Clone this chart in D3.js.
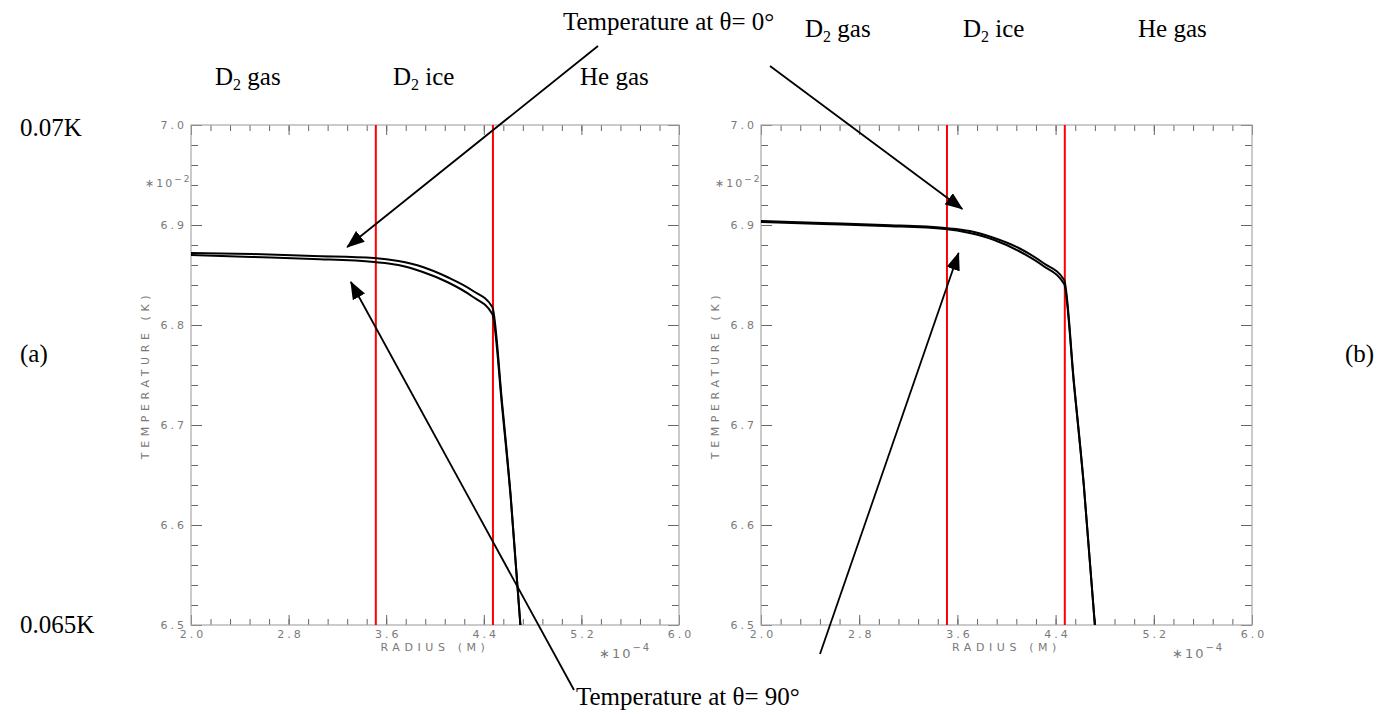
<!DOCTYPE html>
<html>
<head>
<meta charset="utf-8">
<script src="https://cdn.jsdelivr.net/npm/d3@7"></script>
<style>
  body { margin: 0; background: #fff; }
  text.serif { font-family: "Liberation Serif", "Times New Roman", serif; fill: #000; }
  text.idl { font-family: "DejaVu Sans", sans-serif; fill: #7a7a7a; }
</style>
</head>
<body>
<svg id="chart" width="1383" height="715"></svg>
<script>
// radius in units of 1e-4 m, temperature in units of 1e-2 K
const radiusA = [2.0, 2.5, 3.0, 3.5, 3.7, 3.9, 4.1, 4.3, 4.47, 4.55, 4.62, 4.70];
const tempA0  = [6.872, 6.871, 6.869, 6.867, 6.864, 6.858, 6.848, 6.835, 6.818, 6.722, 6.630, 6.5];
const tempA90 = [6.870, 6.868, 6.866, 6.863, 6.860, 6.853, 6.843, 6.829, 6.811, 6.718, 6.628, 6.5];

const radiusB = [2.0, 2.5, 3.0, 3.5, 3.7, 3.9, 4.1, 4.3, 4.47, 4.55, 4.63, 4.72];
const tempB0  = [6.904, 6.902, 6.900, 6.897, 6.894, 6.887, 6.877, 6.862, 6.845, 6.742, 6.640, 6.5];
const tempB90 = [6.903, 6.901, 6.899, 6.896, 6.892, 6.885, 6.874, 6.859, 6.841, 6.740, 6.639, 6.5];

// D2 gas | D2 ice | He gas interfaces
const boundaries = [3.515, 4.475];

const xMajor = [2.0, 2.8, 3.6, 4.4, 5.2, 6.0];
const xMinor = d3.range(0, 26).map(i => 2 + i * 0.16);
const yMajor = [6.5, 6.6, 6.7, 6.8, 6.9, 7.0];
const yMinor = d3.range(0, 26).map(i => 6.5 + i * 0.02);

const svg = d3.select('#chart');

// arrow head marker
svg.append('defs').append('marker')
  .attr('id', 'head')
  .attr('viewBox', '0 0 18 14')
  .attr('refX', 17).attr('refY', 7)
  .attr('markerWidth', 18).attr('markerHeight', 14)
  .attr('markerUnits', 'userSpaceOnUse')
  .attr('orient', 'auto')
  .append('path')
  .attr('d', 'M0,0L18,7L0,14Z')
  .attr('fill', '#000');

const panels = [
  { left: 191, right: 679, top: 125, bottom: 625, r: radiusA, t0: tempA0, t90: tempA90,
    labels: [215, 393, 580], labelY: 85 },
  { left: 761, right: 1252, top: 125, bottom: 625, r: radiusB, t0: tempB0, t90: tempB90,
    labels: [805, 963, 1138], labelY: 37 }
];

function drawPanel(p) {
  const x = d3.scaleLinear().domain([2, 6]).range([p.left, p.right]);
  const y = d3.scaleLinear().domain([6.5, 7.0]).range([p.bottom, p.top]);
  const g = svg.append('g');
  const w = p.right - p.left, h = p.bottom - p.top;

  // ticks on all four sides, pointing inwards
  const axes = [
    [d3.axisBottom(x), `translate(0,${p.bottom})`, xMajor, xMinor, -10, -6],
    [d3.axisTop(x), `translate(0,${p.top})`, xMajor, xMinor, -10, -6],
    [d3.axisLeft(y), `translate(${p.left},0)`, yMajor, yMinor, -11, -7],
    [d3.axisRight(y), `translate(${p.right},0)`, yMajor, yMinor, -11, -7]
  ];
  axes.forEach(([ax, tr, major, minor, lenMaj, lenMin]) => {
    [[minor, lenMin], [major, lenMaj]].forEach(([vals, len]) => {
      const a = g.append('g').attr('transform', tr)
        .call(ax.tickValues(vals).tickSize(len).tickSizeOuter(0).tickFormat(''));
      a.select('.domain').remove();
      a.selectAll('line').attr('stroke', '#666').attr('stroke-width', 1);
    });
  });

  g.append('rect')
    .attr('x', p.left).attr('y', p.top)
    .attr('width', w).attr('height', h)
    .attr('fill', 'none').attr('stroke', '#a8a8a8').attr('stroke-width', 1.2);

  // tick labels
  g.selectAll('.xl').data(xMajor).join('text')
    .attr('class', 'idl')
    .attr('x', d => x(d) + 2).attr('y', p.bottom + 13)
    .attr('text-anchor', 'middle')
    .style('font-size', '11px').style('letter-spacing', '3px')
    .text(d => d.toFixed(1));
  g.selectAll('.yl').data(yMajor).join('text')
    .attr('class', 'idl')
    .attr('x', p.left - 4).attr('y', d => y(d) + 4)
    .attr('text-anchor', 'end')
    .style('font-size', '11px').style('letter-spacing', '3px')
    .text(d => d.toFixed(1));

  // axis titles
  g.append('text').attr('class', 'idl')
    .attr('transform', `translate(${p.left - 42},${(p.top + p.bottom) / 2}) rotate(-90)`)
    .attr('text-anchor', 'middle')
    .style('font-size', '11px').style('letter-spacing', '4.6px')
    .text('TEMPERATURE (K)');
  g.append('text').attr('class', 'idl')
    .attr('x', (p.left + p.right) / 2).attr('y', p.bottom + 26)
    .attr('text-anchor', 'middle')
    .style('font-size', '11px').style('letter-spacing', '4.6px')
    .text('RADIUS (M)');

  const e2 = g.append('text').attr('class', 'idl')
    .attr('x', p.left - 46).attr('y', p.top + 62)
    .style('font-size', '11px').style('letter-spacing', '2px');
  e2.append('tspan').text('∗10');
  e2.append('tspan').attr('dy', -5).style('font-size', '9px').text('−2');

  const e4 = g.append('text').attr('class', 'idl')
    .attr('x', p.right - 80).attr('y', p.bottom + 33)
    .style('font-size', '13px').style('letter-spacing', '2px');
  e4.append('tspan').text('∗10');
  e4.append('tspan').attr('dy', -7).style('font-size', '10px').text('−4');

  // phase boundaries
  g.selectAll('.bd').data(boundaries).join('line')
    .attr('x1', d => x(d)).attr('x2', d => x(d))
    .attr('y1', p.top).attr('y2', p.bottom)
    .attr('stroke', '#ff0000').attr('stroke-width', 2);

  // temperature profiles
  const line = d3.line()
    .x(d => x(d[0])).y(d => y(d[1]))
    .curve(d3.curveMonotoneX);
  [p.t0, p.t90].forEach(t => {
    g.append('path')
      .datum(p.r.map((r, i) => [r, t[i]]))
      .attr('d', line)
      .attr('fill', 'none')
      .attr('stroke', '#000')
      .attr('stroke-width', 2);
  });

  // region labels above the frame
  const names = [['D', '2', ' gas'], ['D', '2', ' ice'], ['He gas']];
  names.forEach((parts, i) => {
    const t = svg.append('text').attr('class', 'serif')
      .attr('x', p.labels[i]).attr('y', p.labelY)
      .style('font-size', '25px');
    t.append('tspan').text(parts[0]);
    if (parts.length > 1) {
      t.append('tspan').attr('dy', 5).style('font-size', '16px').text(parts[1]);
      t.append('tspan').attr('dy', -5).text(parts[2]);
    }
  });

  return { x, y };
}

const sa = drawPanel(panels[0]);
const sb = drawPanel(panels[1]);

// annotation arrows: tail in page px, tip in data units
const arrows = [
  { s: sa, from: [598, 46], to: [3.28, 6.878] },
  { s: sa, from: [574, 690], to: [3.31, 6.843] },
  { s: sb, from: [770, 66], to: [3.64, 6.916] },
  { s: sb, from: [820, 654], to: [3.61, 6.872] }
];
arrows.forEach(a => {
  svg.append('line')
    .attr('x1', a.from[0]).attr('y1', a.from[1])
    .attr('x2', a.s.x(a.to[0])).attr('y2', a.s.y(a.to[1]))
    .attr('stroke', '#000').attr('stroke-width', 1.8)
    .attr('marker-end', 'url(#head)');
});

const notes = [
  ['Temperature at θ= 0°', 563, 30],
  ['Temperature at θ= 90°', 576, 705],
  ['0.07K', 20, 136],
  ['0.065K', 20, 633],
  ['(a)', 20, 362],
  ['(b)', 1345, 362]
];
notes.forEach(([txt, x, y]) => {
  svg.append('text').attr('class', 'serif')
    .attr('x', x).attr('y', y)
    .style('font-size', '25px')
    .text(txt);
});
</script>
</body>
</html>
